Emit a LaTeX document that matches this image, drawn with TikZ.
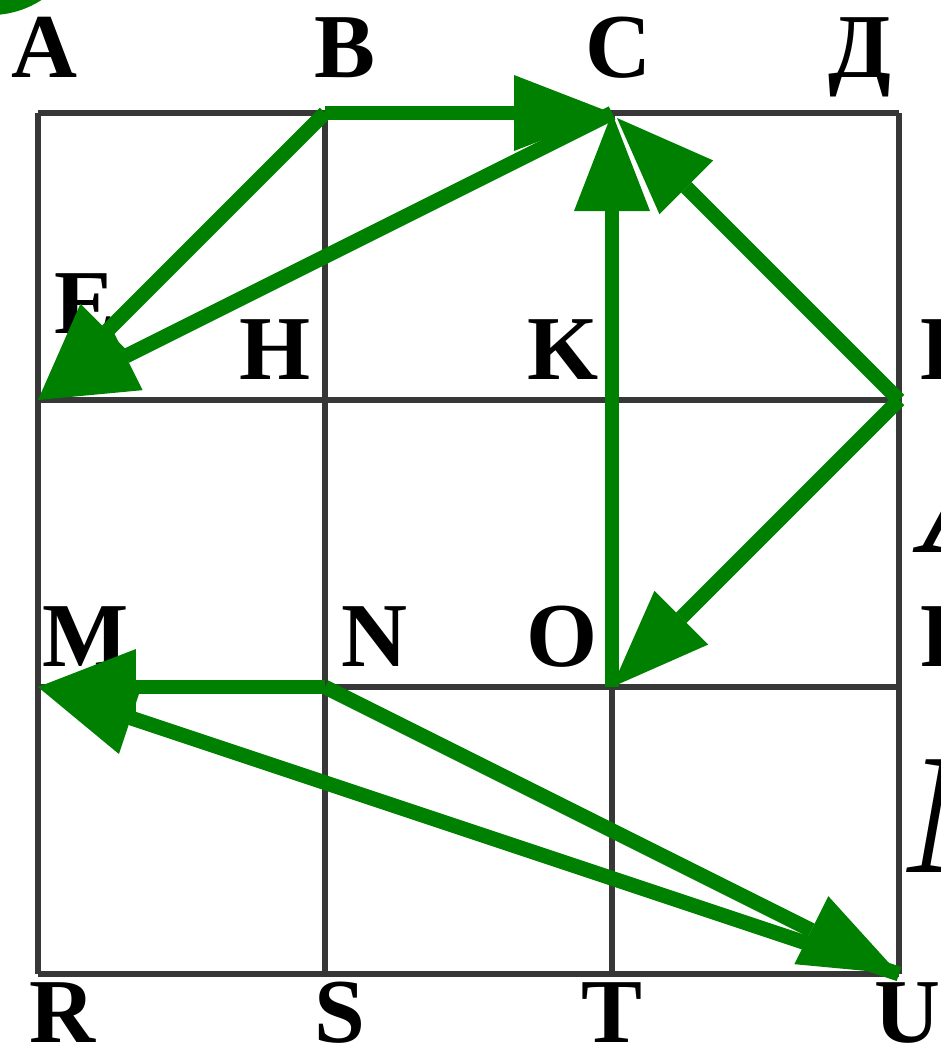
\documentclass[tikz,border=0pt]{standalone}
\usepackage{fontspec}
\setmainfont{Liberation Serif}
\usetikzlibrary{arrows.meta}
\definecolor{arrgreen}{RGB}{0,128,0}
\definecolor{gridgray}{RGB}{55,55,55}

\begin{document}
\begin{tikzpicture}[
                x=2.87cm, y=2.87cm,
                gridline/.style={draw=gridgray, line width=1.6pt},
                move/.style={draw=arrgreen, line width=4.2pt,
                        -{Triangle[length=0.98cm, width=0.76cm, line width=0pt]}},
                lbl/.style={font=\bfseries\fontsize{26}{26}\selectfont, inner sep=0pt, anchor=base},
                side/.style={font=\bfseries\fontsize{26}{26}\selectfont, inner sep=0pt, anchor=base west},
                cut/.style={font=\itshape\fontsize{49}{49}\selectfont, inner sep=0pt, anchor=base west}
            ]

            \useasboundingbox (-0.1324,-0.2578) rectangle (3.1429,3.3937);

            % stray green blob in the corner
            \fill[arrgreen] (-0.167,3.672) circle (0.331);

            \draw[gridline, step=2.87cm] (0,0) grid (3,3);

            % grid points
            \coordinate (A) at (0,3);
            \coordinate (B) at (1,3);
            \coordinate (C) at (2,3);
            \coordinate (D) at (3,3);
            \coordinate (E) at (0,2);
            \coordinate (H) at (1,2);
            \coordinate (K) at (2,2);
            \coordinate (L) at (3,2);
            \coordinate (M) at (0,1);
            \coordinate (N) at (1,1);
            \coordinate (O) at (2,1);
            \coordinate (P) at (3,1);
            \coordinate (R) at (0,0);
            \coordinate (S) at (1,0);
            \coordinate (T) at (2,0);
            \coordinate (U) at (3,0);

            % letters
            \node[lbl] (lA) at (0.024,3.125) {A};
            \node[lbl] (lB) at (1.070,3.125) {B};
            \node[lbl] (lC) at (2.021,3.125) {C};
            \node[lbl] (lD) at (2.864,3.125) {Д};
            \node[lbl] (lE) at (0.164,2.233) {E};
            \node[lbl] (lH) at (0.826,2.070) {H};
            \node[lbl] (lK) at (1.829,2.070) {K};
            \node[side] (lL) at (3.073,2.070) {L};
            \node[lbl] (lM) at (0.167,1.073) {M};
            \node[lbl] (lN) at (1.174,1.073) {N};
            \node[lbl] (lO) at (1.826,1.073) {O};
            \node[side] (lP) at (3.073,1.073) {P};
            \node[lbl] (lR) at (0.084,-0.240) {R};
            \node[lbl] (lS) at (1.052,-0.240) {S};
            \node[lbl] (lT) at (2.000,-0.240) {T};
            \node[lbl] (lU) at (3.031,-0.240) {U};
            \node[cut] (xA) at (3.080,1.467) {A};
            \node[cut] (xM) at (3.031,0.355) {M};

            % moves
            \draw[move] (B) -- (C);
            \draw[move] (B) -- (E);
            \draw[move] (C) -- (E);
            \draw[move] (O) -- (C);
            \draw[move, shorten >=2pt] (L) -- (C);
            \draw[move] (L) -- (O);
            \draw[move] (N) -- (M);
            \draw[move] (N) -- (U);
            \draw[move] (U) -- (M);

        \end{tikzpicture}
\end{document}
